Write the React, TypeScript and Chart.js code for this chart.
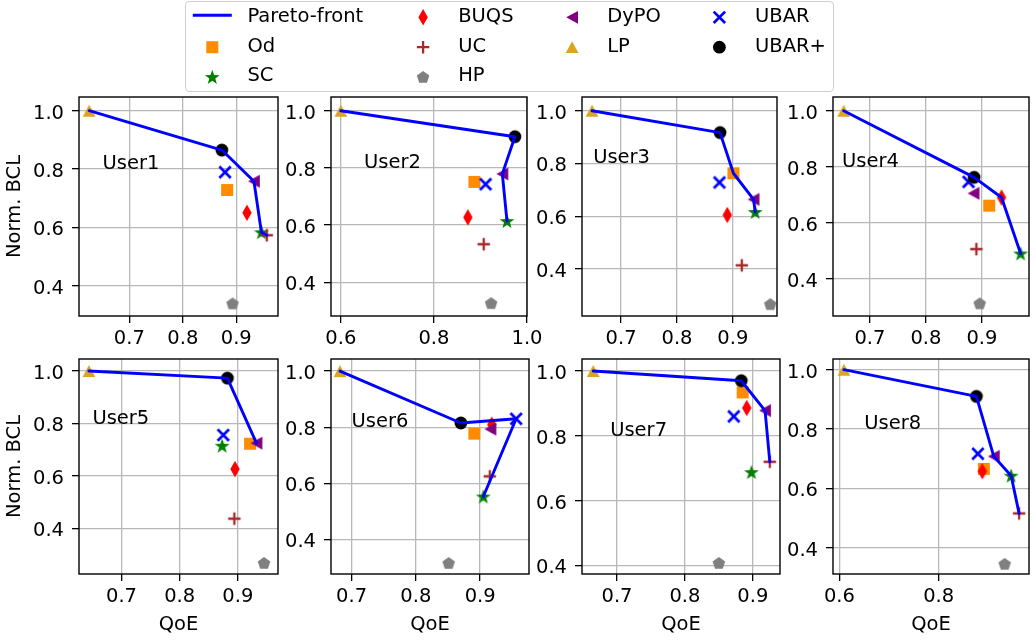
import React, { useEffect, useRef } from "react";
import { Chart, registerables } from "chart.js";

Chart.register(...registerables);

const FONT = "'DejaVu Sans', 'Liberation Sans', sans-serif";
const FS = 19.5;
const GRID = "#b8b8b8";

// ---------------- data ----------------
const users = ["User1", "User2", "User3", "User4", "User5", "User6", "User7", "User8"];
const methods = ["Od", "SC", "BUQS", "UC", "HP", "DyPO", "LP", "UBAR", "UBAR+"];

const odQoE = [0.883, 0.887, 0.901, 0.913, 0.921, 0.891, 0.885, 0.891];
const odBCL = [0.728, 0.751, 0.763, 0.661, 0.723, 0.777, 0.934, 0.666];
const scQoE = [0.947, 0.957, 0.94, 0.969, 0.873, 0.905, 0.898, 0.946];
const scBCL = [0.583, 0.614, 0.616, 0.49, 0.715, 0.553, 0.688, 0.643];
const buqsQoE = [0.92, 0.873, 0.89, 0.935, 0.895, 0.918, 0.891, 0.888];
const buqsBCL = [0.65, 0.627, 0.605, 0.69, 0.626, 0.809, 0.886, 0.658];
const ucQoE = [0.957, 0.907, 0.916, 0.89, 0.894, 0.915, 0.925, 0.962];
const ucBCL = [0.573, 0.533, 0.414, 0.506, 0.437, 0.625, 0.72, 0.516];
const hpQoE = [0.893, 0.923, 0.967, 0.896, 0.945, 0.851, 0.85, 0.933];
const hpBCL = [0.339, 0.327, 0.267, 0.312, 0.268, 0.316, 0.408, 0.346];
const dypoQoE = [0.933, 0.947, 0.937, 0.885, 0.932, 0.916, 0.918, 0.911];
const dypoBCL = [0.758, 0.779, 0.664, 0.705, 0.725, 0.793, 0.878, 0.708];
const lpQoE = [0.625, 0.6, 0.648, 0.653, 0.644, 0.682, 0.665, 0.609];
const lpBCL = [1.0, 1.0, 1.0, 1.0, 1.0, 1.0, 1.0, 1.0];
const ubarQoE = [0.879, 0.911, 0.876, 0.876, 0.875, 0.956, 0.872, 0.879];
const ubarBCL = [0.789, 0.743, 0.728, 0.746, 0.756, 0.83, 0.86, 0.717];
const ubarPlusQoE = [0.873, 0.974, 0.877, 0.886, 0.882, 0.87, 0.883, 0.876];
const ubarPlusBCL = [0.865, 0.909, 0.917, 0.762, 0.973, 0.815, 0.97, 0.91];

// methods lying on each user's Pareto front, in drawing order
const paretoMembers = [
  ["LP", "UBAR+", "DyPO", "SC", "UC"],
  ["LP", "UBAR+", "DyPO", "SC"],
  ["LP", "UBAR+", "Od", "DyPO", "SC"],
  ["LP", "UBAR+", "BUQS", "SC"],
  ["LP", "UBAR+", "DyPO"],
  ["LP", "UBAR+", "UBAR", "SC"],
  ["LP", "UBAR+", "DyPO", "UC"],
  ["LP", "UBAR+", "DyPO", "SC", "UC"],
];

const xMin = [0.606, 0.579, 0.63, 0.634, 0.627, 0.668, 0.6485, 0.587];
const xMax = [0.978, 1.0, 0.979, 0.984, 0.969, 0.976, 0.94, 0.982];
const yMin = [0.296, 0.282, 0.222, 0.267, 0.226, 0.277, 0.374, 0.312];
const yMax = [1.047, 1.048, 1.052, 1.049, 1.046, 1.043, 1.037, 1.036];
const xTicks = [
  [0.7, 0.8, 0.9],
  [0.6, 0.8, 1.0],
  [0.7, 0.8, 0.9],
  [0.7, 0.8, 0.9],
  [0.7, 0.8, 0.9],
  [0.7, 0.8, 0.9],
  [0.7, 0.8, 0.9],
  [0.6, 0.8],
];
const yTicks = [0.4, 0.6, 0.8, 1.0];
const userLabelX = [0.65, 0.65, 0.65, 0.65, 0.65, 0.7, 0.69, 0.65];
const userLabelY = 0.8;

const qoeOf: Record<string, number[]> = {
  Od: odQoE, SC: scQoE, BUQS: buqsQoE, UC: ucQoE, HP: hpQoE,
  DyPO: dypoQoE, LP: lpQoE, UBAR: ubarQoE, "UBAR+": ubarPlusQoE,
};
const bclOf: Record<string, number[]> = {
  Od: odBCL, SC: scBCL, BUQS: buqsBCL, UC: ucBCL, HP: hpBCL,
  DyPO: dypoBCL, LP: lpBCL, UBAR: ubarBCL, "UBAR+": ubarPlusBCL,
};

// ---------------- styles / layout ----------------
const markerStyle: Record<string, { shape: string; color: string }> = {
  Od: { shape: "square", color: "#ff8c00" },
  SC: { shape: "star", color: "#008000" },
  BUQS: { shape: "thinDiamond", color: "#ff0000" },
  UC: { shape: "plus", color: "#a52a2a" },
  HP: { shape: "pentagon", color: "#808080" },
  DyPO: { shape: "triLeft", color: "#800080" },
  LP: { shape: "triUp", color: "#daa520" },
  UBAR: { shape: "x", color: "#0000ff" },
  "UBAR+": { shape: "circle", color: "#000000" },
};

// plot-area rectangles [left, top, right, bottom]
const plotRects = [
  [79, 97, 278, 316], [331, 97, 527, 316], [582, 97, 777, 316], [833, 97, 1031, 316],
  [79, 359, 278, 574], [331, 359, 529, 574], [582, 359, 780, 574], [833, 359, 1031, 574],
];

function poly(ctx: CanvasRenderingContext2D, x: number, y: number, pts: number[][]) {
  ctx.beginPath();
  pts.forEach((p, i) => (i === 0 ? ctx.moveTo(x + p[0], y + p[1]) : ctx.lineTo(x + p[0], y + p[1])));
  ctx.closePath();
  ctx.fill();
}

function drawMarker(ctx: CanvasRenderingContext2D, shape: string, color: string, x: number, y: number) {
  ctx.save();
  ctx.fillStyle = color;
  ctx.strokeStyle = color;
  switch (shape) {
    case "square":
      ctx.fillRect(x - 6, y - 6, 12, 12);
      break;
    case "circle":
      ctx.beginPath();
      ctx.arc(x, y, 6.4, 0, Math.PI * 2);
      ctx.fill();
      break;
    case "triUp":
      poly(ctx, x, y, [[0, -5.9], [-6.4, 5.9], [6.4, 5.9]]);
      break;
    case "triLeft":
      poly(ctx, x, y, [[-5.9, 0], [5.9, -6.4], [5.9, 6.4]]);
      break;
    case "thinDiamond":
      poly(ctx, x, y, [[0, -8.3], [4.7, 0], [0, 8.3], [-4.7, 0]]);
      break;
    case "star": {
      const pts: number[][] = [];
      const R = 7.8, r = R * 0.4;
      for (let i = 0; i < 10; i++) {
        const a = -Math.PI / 2 + (i * Math.PI) / 5;
        const rr = i % 2 === 0 ? R : r;
        pts.push([rr * Math.cos(a), rr * Math.sin(a) + 0.6]);
      }
      poly(ctx, x, y, pts);
      break;
    }
    case "pentagon": {
      const pts: number[][] = [];
      const R = 6.6;
      for (let i = 0; i < 5; i++) {
        const a = -Math.PI / 2 + (i * 2 * Math.PI) / 5;
        pts.push([R * Math.cos(a), R * Math.sin(a) + 0.5]);
      }
      poly(ctx, x, y, pts);
      break;
    }
    case "plus":
      ctx.lineWidth = 2.3;
      ctx.beginPath();
      ctx.moveTo(x - 6.2, y);
      ctx.lineTo(x + 6.2, y);
      ctx.moveTo(x, y - 6.2);
      ctx.lineTo(x, y + 6.2);
      ctx.stroke();
      break;
    case "x":
      ctx.lineWidth = 2.7;
      ctx.beginPath();
      ctx.moveTo(x - 5.7, y - 5.7);
      ctx.lineTo(x + 5.7, y + 5.7);
      ctx.moveTo(x - 5.7, y + 5.7);
      ctx.lineTo(x + 5.7, y - 5.7);
      ctx.stroke();
      break;
  }
  ctx.restore();
}

const markerCache: Record<string, HTMLCanvasElement> = {};
function markerCanvas(m: string): HTMLCanvasElement {
  if (!markerCache[m]) {
    const c = document.createElement("canvas");
    c.width = 24;
    c.height = 24;
    const ctx = c.getContext("2d")!;
    drawMarker(ctx, markerStyle[m].shape, markerStyle[m].color, 12, 12);
    markerCache[m] = c;
  }
  return markerCache[m];
}

function Panel({ idx }: { idx: number }) {
  const ref = useRef<HTMLCanvasElement | null>(null);
  const col = idx % 4;
  const row = Math.floor(idx / 4);
  const [L, T, R, B] = plotRects[idx];
  const yw = col === 0 ? L : 54;
  const xh = row === 1 ? 64 : 40;
  const padTop = 20;
  const padRight = col === 3 ? 1036 - R : 22;
  const W = yw + (R - L) + padRight;
  const H = padTop + (B - T) + xh;

  useEffect(() => {
    const tickFont = { family: FONT, size: FS, lineHeight: 1.2 };
    const scatterSets = methods.map((m, k) => ({
      label: m,
      data: [{ x: qoeOf[m][idx], y: bclOf[m][idx] }],
      pointStyle: markerCanvas(m) as any,
      pointRadius: 6,
      showLine: false,
      order: 9 - k,
    }));
    const pareto = {
      label: "Pareto-front",
      data: paretoMembers[idx].map((m) => ({ x: qoeOf[m][idx], y: bclOf[m][idx] })),
      showLine: true,
      borderColor: "#0000ff",
      backgroundColor: "#0000ff",
      borderWidth: 2.9,
      borderJoinStyle: "round" as const,
      borderCapStyle: "round" as const,
      pointRadius: 0,
      tension: 0,
      order: 0,
    };
    const chart = new Chart(ref.current!, {
      type: "scatter",
      data: { datasets: [pareto as any, ...scatterSets] },
      options: {
        animation: false,
        responsive: false,
        devicePixelRatio: 1,
        events: [],
        layout: { padding: { left: 0, top: padTop, right: padRight, bottom: 0 } },
        plugins: { legend: { display: false }, tooltip: { enabled: false } },
        scales: {
          x: {
            type: "linear",
            position: "bottom",
            min: xMin[idx],
            max: xMax[idx],
            afterBuildTicks: (s: any) => {
              s.ticks = xTicks[idx].map((v) => ({ value: v }));
            },
            afterFit: (s: any) => {
              s.height = xh;
              s.paddingLeft = 0;
              s.paddingRight = 0;
              s.paddingTop = 0;
              s.paddingBottom = 0;
            },
            ticks: {
              font: tickFont,
              color: "#000",
              padding: 4,
              autoSkip: false,
              maxRotation: 0,
              minRotation: 0,
              callback: (v: any) => Number(v).toFixed(1),
            },
            grid: { color: GRID, lineWidth: 1.3, drawTicks: true, tickLength: 7, tickColor: "#000", tickWidth: 1.3 },
            border: { display: false },
            title: {
              display: row === 1,
              text: "QoE",
              color: "#000",
              font: { family: FONT, size: FS, lineHeight: 1.2 },
              padding: { top: 0, bottom: 1.8 },
            },
          },
          y: {
            type: "linear",
            position: "left",
            min: yMin[idx],
            max: yMax[idx],
            afterBuildTicks: (s: any) => {
              s.ticks = yTicks.map((v) => ({ value: v }));
            },
            afterFit: (s: any) => {
              s.width = yw;
              s.paddingLeft = 0;
              s.paddingRight = 0;
              s.paddingTop = 0;
              s.paddingBottom = 0;
            },
            ticks: {
              font: tickFont,
              color: "#000",
              padding: 8,
              autoSkip: false,
              labelOffset: 2.8,
              callback: (v: any) => Number(v).toFixed(1),
            },
            grid: { color: GRID, lineWidth: 1.3, drawTicks: true, tickLength: 7, tickColor: "#000", tickWidth: 1.3 },
            border: { display: false },
            title: {
              display: col === 0,
              text: "Norm. BCL",
              color: "#000",
              font: { family: FONT, size: FS, lineHeight: 1.2 },
              padding: { top: 3.3, bottom: 0 },
            },
          },
        },
      },
      plugins: [
        {
          id: "frameAndLabel",
          afterDraw(c: any) {
            const { ctx, chartArea } = c;
            const { left, top, right, bottom } = chartArea;
            ctx.save();
            ctx.font = `${FS}px ${FONT}`;
            ctx.fillStyle = "#000";
            ctx.textAlign = "left";
            ctx.textBaseline = "alphabetic";
            ctx.fillText(users[idx], c.scales.x.getPixelForValue(userLabelX[idx]), c.scales.y.getPixelForValue(userLabelY));
            ctx.strokeStyle = "#000";
            ctx.lineWidth = 1.4;
            ctx.strokeRect(left, top, right - left, bottom - top);
            ctx.restore();
          },
        },
      ],
    } as any);
    return () => chart.destroy();
  }, [idx]);

  return (
    <canvas
      ref={ref}
      width={W}
      height={H}
      style={{ position: "absolute", left: L - yw, top: T - padTop, width: W, height: H, display: "block" }}
    />
  );
}

// legend layout (column-major like the reference)
const legendCols = [
  ["Pareto-front", "Od", "SC"],
  ["BUQS", "UC", "HP"],
  ["DyPO", "LP"],
  ["UBAR", "UBAR+"],
];
const legendHandleX = [192.8, 403.6, 552.6, 699.9];
const legendTextX = [247.4, 458.2, 607.2, 755];
const legendRowY = [15.3, 45.2, 75];

function Legend() {
  const ref = useRef<HTMLCanvasElement | null>(null);
  const BX = 185, BY = 1, BW = 649, BH = 91;
  useEffect(() => {
    const ctx = ref.current!.getContext("2d")!;
    ctx.clearRect(0, 0, BW, BH);
    legendCols.forEach((col, ci) =>
      col.forEach((lab, ri) => {
        const hx = legendHandleX[ci] - BX;
        const cy = legendRowY[ri] - BY;
        if (lab === "Pareto-front") {
          ctx.save();
          ctx.strokeStyle = "#0000ff";
          ctx.lineWidth = 2.9;
          ctx.beginPath();
          ctx.moveTo(hx, cy);
          ctx.lineTo(hx + 39, cy);
          ctx.stroke();
          ctx.restore();
        } else {
          drawMarker(ctx, markerStyle[lab].shape, markerStyle[lab].color, hx + 19.5, cy + 2);
        }
      })
    );
  }, []);
  return (
    <div style={{ position: "absolute", left: BX, top: BY, width: BW, height: BH }}>
      <div
        style={{
          position: "absolute",
          left: 0,
          top: 0,
          width: BW,
          height: BH,
          boxSizing: "border-box",
          border: "1px solid #d0d0d0",
          borderRadius: 4,
          background: "rgba(255,255,255,0.85)",
        }}
      />
      <canvas ref={ref} width={BW} height={BH} style={{ position: "absolute", left: 0, top: 0 }} />
      {legendCols.map((col, ci) =>
        col.map((lab, ri) => (
          <div
            key={lab}
            style={{
              position: "absolute",
              left: legendTextX[ci] - BX,
              top: legendRowY[ri] - BY - 11.6,
              fontFamily: FONT,
              fontSize: FS,
              lineHeight: "24px",
              color: "#000",
              whiteSpace: "nowrap",
            }}
          >
            {lab}
          </div>
        ))
      )}
    </div>
  );
}

export default function App() {
  return (
    <div
      style={{
        position: "absolute",
        left: 0,
        top: 0,
        width: 1036,
        height: 640,
        overflow: "hidden",
        background: "#fff",
      }}
    >
      {users.map((u, i) => (
        <Panel key={u} idx={i} />
      ))}
      <Legend />
    </div>
  );
}
